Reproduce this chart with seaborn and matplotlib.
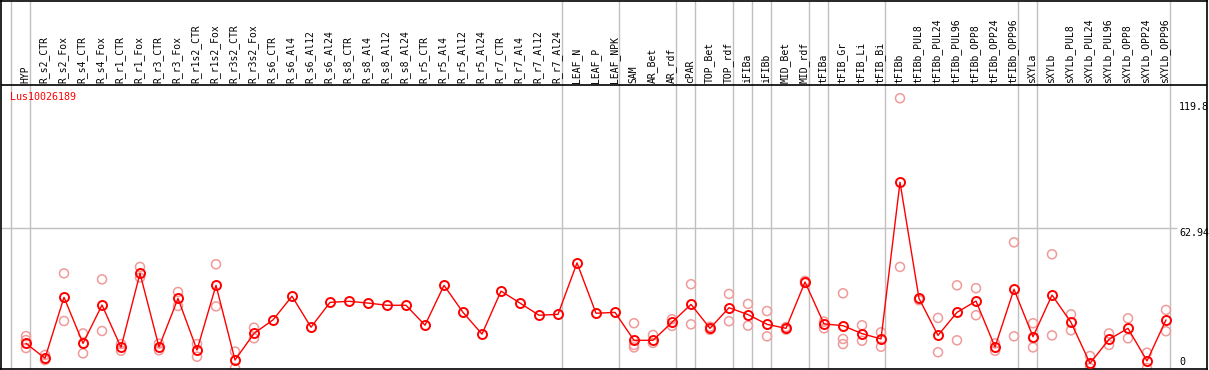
import numpy as np
import pandas as pd
import seaborn as sns
import matplotlib
matplotlib.use("Agg")
import matplotlib.pyplot as plt

# sample labels, one column each
samples = ["HYP", "R_s2_CTR", "R_s2_Fox", "R_s4_CTR", "R_s4_Fox", "R_r1_CTR", "R_r1_Fox",
           "R_r3_CTR", "R_r3_Fox", "R_r1s2_CTR", "R_r1s2_Fox", "R_r3s2_CTR", "R_r3s2_Fox",
           "R_s6_CTR", "R_s6_Al4", "R_s6_Al12", "R_s6_Al24", "R_s8_CTR", "R_s8_Al4",
           "R_s8_Al12", "R_s8_Al24", "R_r5_CTR", "R_r5_Al4", "R_r5_Al12", "R_r5_Al24",
           "R_r7_CTR", "R_r7_Al4", "R_r7_Al12", "R_r7_Al24", "LEAF_N", "LEAF_P", "LEAF_NPK",
           "SAM", "AR_Bet", "AR_rdf", "cPAR", "TOP_Bet", "TOP_rdf", "iFIBa", "iFIBb",
           "MID_Bet", "MID_rdf", "tFIBa", "tFIB_Gr", "tFIB_Li", "tFIB_Bi", "tFIBb",
           "tFIBb_PUL8", "tFIBb_PUL24", "tFIBb_PUL96", "tFIBb_OPP8", "tFIBb_OPP24",
           "tFIBb_OPP96", "sXYLa", "sXYLb", "sXYLb_PUL8", "sXYLb_PUL24", "sXYLb_PUL96",
           "sXYLb_OPP8", "sXYLb_OPP24", "sXYLb_OPP96"]

# mean expression per sample
means = [11.1, 4.4, 31.9, 11.1, 28.4, 9.3, 42.7, 9.5, 31.4, 8.1, 37.3, 3.6, 15.6,
         21.7, 32.4, 18.4, 29.6, 30.1, 29.3, 28.3, 28.3, 19.3, 37.3, 25.1, 15.3,
         34.7, 29.3, 23.8, 24.2, 47.4, 24.7, 25.1,
         12.5, 12.5, 20.6, 28.7, 17.9, 27.2, 24.1, 19.7, 17.9, 38.8, 19.9, 19.1, 15.5, 13.1,
         83.8, 31.4, 14.7, 25.1, 30.2, 9.5, 35.5, 14.1, 32.9, 20.6, 2.1, 12.9, 17.9, 3.2, 21.7]

# individual replicates (empty where only the mean is shown)
replicates = [[14.4, 12.6, 9.0], [5.9, 3.6], [42.7, 21.2], [15.6, 6.6], [40.0, 16.7],
              [10.8, 7.8], [45.6, 40.8], [11.0, 8.0], [34.3, 28.0], [10.8, 5.1],
              [46.8, 27.8], [7.4, 0.0], [18.2, 13.4],
              [], [], [], [], [], [], [], [], [], [], [], [], [], [], [], [], [], [], [],
              [20.2, 10.4, 9.3], [14.9, 11.3], [22.0, 19.0], [37.8, 19.7], [18.6, 17.2],
              [33.4, 21.1], [28.9, 19.1], [25.7, 14.3], [18.5, 17.3], [39.3, 38.3],
              [20.9, 17.9], [33.7, 13.1, 10.8], [19.3, 12.3], [16.1, 9.6],
              [121.7, 45.6], [31.0, 30.6], [22.6, 7.1], [37.3, 12.5], [36.0, 23.8],
              [11.1, 7.8], [56.7, 14.3], [20.2, 13.5, 9.3], [51.3, 14.7], [24.2, 17.0],
              [5.4, 0.0], [15.6, 10.4], [22.4, 13.4], [6.9, 0.0], [26.2, 16.6]]

# number of samples in each tissue group (gray separators between them)
group_sizes = [1, 28, 3, 3, 1, 2, 1, 1, 2, 1, 3, 7, 1, 7]

gene = "Lus10026189"
axis_ticks = [0, 62.94, 119.8]

sns.set_style("white")
plt.rcParams["font.family"] = ["DejaVu Sans Mono", "DejaVu Sans"]

W, H = 1209, 370
fig = plt.figure(figsize=(W / 100, H / 100), dpi=100)
ax = fig.add_axes([1 / W, 1 / H, 1206 / W, 368.5 / H])

x = np.arange(len(samples))
mean_df = pd.DataFrame({"x": x, "value": means})
rep_df = pd.DataFrame([(i, v) for i, vals in enumerate(replicates) for v in vals],
                      columns=["x", "value"])

# pixel geometry: 19 px per column, 2.216 px per unit
ax.set_xlim(-1.316, 62.158)
ax.set_ylim(-0.45, 165.8)
header_y = 127.7

# group separators
bounds = np.concatenate([[-1], np.cumsum(group_sizes) - 1]) + 0.23
for b in bounds:
    ax.axvline(b, color="#c0c0c0", lw=1, zorder=0)

ax.hlines(62.94, -1.316, 60.6, color="#c0c0c0", lw=1, zorder=0)
ax.axhline(header_y, color="black", lw=1.2)

sns.scatterplot(data=rep_df, x="x", y="value", ax=ax, marker="o", s=42,
                facecolor="none", edgecolor="#f09a9a", linewidth=1.1, zorder=2)
sns.lineplot(data=mean_df, x="x", y="value", ax=ax, color="red", lw=1,
             marker="o", markersize=6.5, markerfacecolor="none",
             markeredgecolor="red", markeredgewidth=1.4, zorder=3)

for i, name in enumerate(samples):
    ax.text(i - 0.05, 128.6, name, rotation=90, ha="center", va="bottom",
            fontsize=7, color="black")

ax.text(-0.842, 122.3, gene, ha="left", va="center", fontsize=7.2, color="red")

tick_y = [2.8, 61.1, 117.9]
for t, ty in zip(axis_ticks, tick_y):
    ax.text(60.68, ty, f"{t:g}", ha="left", va="center", fontsize=7.2, color="black")

ax.set_xlabel("")
ax.set_ylabel("")
ax.set_xticks([])
ax.set_yticks([])
for sp in ax.spines.values():
    sp.set_color("black")
    sp.set_linewidth(1.2)

fig.savefig("out.png", dpi=100)
